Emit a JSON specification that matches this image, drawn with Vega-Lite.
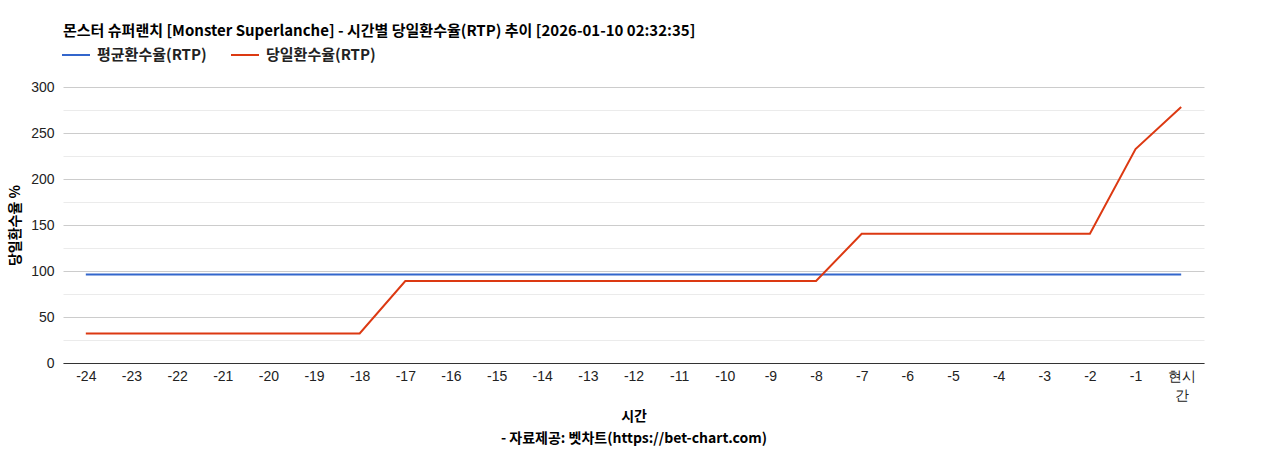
{
  "$schema": "https://vega.github.io/schema/vega-lite/v6.json",
  "autosize": "none",
  "width": 1141,
  "height": 276,
  "padding": {"left": 63, "top": 87, "right": 64, "bottom": 87},
  "title": {
    "text": "몬스터 슈퍼랜치 [Monster Superlanche] - 시간별 당일환수율(RTP) 추이 [2026-01-10 02:32:35]",
    "anchor": "start",
    "frame": "group",
    "font": "Noto Sans CJK KR",
    "fontSize": 15,
    "fontWeight": "bold",
    "color": "#000000",
    "offset": 1
  },
  "config": {
    "view": {"stroke": null},
    "font": "Liberation Sans"
  },
  "data": {
    "values": [
      {"hour": "-24", "series": "평균환수율(RTP)", "rtp": 96.3},
      {"hour": "-23", "series": "평균환수율(RTP)", "rtp": 96.3},
      {"hour": "-22", "series": "평균환수율(RTP)", "rtp": 96.3},
      {"hour": "-21", "series": "평균환수율(RTP)", "rtp": 96.3},
      {"hour": "-20", "series": "평균환수율(RTP)", "rtp": 96.3},
      {"hour": "-19", "series": "평균환수율(RTP)", "rtp": 96.3},
      {"hour": "-18", "series": "평균환수율(RTP)", "rtp": 96.3},
      {"hour": "-17", "series": "평균환수율(RTP)", "rtp": 96.3},
      {"hour": "-16", "series": "평균환수율(RTP)", "rtp": 96.3},
      {"hour": "-15", "series": "평균환수율(RTP)", "rtp": 96.3},
      {"hour": "-14", "series": "평균환수율(RTP)", "rtp": 96.3},
      {"hour": "-13", "series": "평균환수율(RTP)", "rtp": 96.3},
      {"hour": "-12", "series": "평균환수율(RTP)", "rtp": 96.3},
      {"hour": "-11", "series": "평균환수율(RTP)", "rtp": 96.3},
      {"hour": "-10", "series": "평균환수율(RTP)", "rtp": 96.3},
      {"hour": "-9", "series": "평균환수율(RTP)", "rtp": 96.3},
      {"hour": "-8", "series": "평균환수율(RTP)", "rtp": 96.3},
      {"hour": "-7", "series": "평균환수율(RTP)", "rtp": 96.3},
      {"hour": "-6", "series": "평균환수율(RTP)", "rtp": 96.3},
      {"hour": "-5", "series": "평균환수율(RTP)", "rtp": 96.3},
      {"hour": "-4", "series": "평균환수율(RTP)", "rtp": 96.3},
      {"hour": "-3", "series": "평균환수율(RTP)", "rtp": 96.3},
      {"hour": "-2", "series": "평균환수율(RTP)", "rtp": 96.3},
      {"hour": "-1", "series": "평균환수율(RTP)", "rtp": 96.3},
      {"hour": "현시간", "series": "평균환수율(RTP)", "rtp": 96.3},
      {"hour": "-24", "series": "당일환수율(RTP)", "rtp": 32.2},
      {"hour": "-23", "series": "당일환수율(RTP)", "rtp": 32.2},
      {"hour": "-22", "series": "당일환수율(RTP)", "rtp": 32.2},
      {"hour": "-21", "series": "당일환수율(RTP)", "rtp": 32.2},
      {"hour": "-20", "series": "당일환수율(RTP)", "rtp": 32.2},
      {"hour": "-19", "series": "당일환수율(RTP)", "rtp": 32.2},
      {"hour": "-18", "series": "당일환수율(RTP)", "rtp": 32.2},
      {"hour": "-17", "series": "당일환수율(RTP)", "rtp": 89.1},
      {"hour": "-16", "series": "당일환수율(RTP)", "rtp": 89.1},
      {"hour": "-15", "series": "당일환수율(RTP)", "rtp": 89.1},
      {"hour": "-14", "series": "당일환수율(RTP)", "rtp": 89.1},
      {"hour": "-13", "series": "당일환수율(RTP)", "rtp": 89.1},
      {"hour": "-12", "series": "당일환수율(RTP)", "rtp": 89.1},
      {"hour": "-11", "series": "당일환수율(RTP)", "rtp": 89.1},
      {"hour": "-10", "series": "당일환수율(RTP)", "rtp": 89.1},
      {"hour": "-9", "series": "당일환수율(RTP)", "rtp": 89.1},
      {"hour": "-8", "series": "당일환수율(RTP)", "rtp": 89.1},
      {"hour": "-7", "series": "당일환수율(RTP)", "rtp": 140.5},
      {"hour": "-6", "series": "당일환수율(RTP)", "rtp": 140.5},
      {"hour": "-5", "series": "당일환수율(RTP)", "rtp": 140.5},
      {"hour": "-4", "series": "당일환수율(RTP)", "rtp": 140.5},
      {"hour": "-3", "series": "당일환수율(RTP)", "rtp": 140.5},
      {"hour": "-2", "series": "당일환수율(RTP)", "rtp": 140.5},
      {"hour": "-1", "series": "당일환수율(RTP)", "rtp": 232.6},
      {"hour": "현시간", "series": "당일환수율(RTP)", "rtp": 278.3}
    ]
  },
  "mark": {"type": "line", "strokeWidth": 2, "interpolate": "linear"},
  "encoding": {
    "x": {
      "field": "hour",
      "type": "ordinal",
      "sort": ["-24","-23","-22","-21","-20","-19","-18","-17","-16","-15","-14","-13","-12","-11","-10","-9","-8","-7","-6","-5","-4","-3","-2","-1","현시간"],
      "scale": {"type": "point", "padding": 0.5},
      "axis": {
        "title": ["시간", "- 자료제공: 벳차트(https://bet-chart.com)"],
        "titleFont": "Noto Sans CJK KR",
        "titleFontSize": 14,
        "titleFontWeight": "bold",
        "titleColor": "#000000",
        "titleLineHeight": 22,
        "titlePadding": 7,
        "labelAngle": 0,
        "labelFontSize": 14,
        "labelColor": "#222222",
        "labelPadding": 6,
        "labelLineHeight": 19,
        "labelExpr": "datum.label == '현시간' ? ['현시', '간'] : datum.label",
        "ticks": false,
        "domainColor": "#333333",
        "grid": false
      }
    },
    "y": {
      "field": "rtp",
      "type": "quantitative",
      "scale": {"domain": [0, 300], "nice": false},
      "axis": {
        "title": "당일환수율 %",
        "titleFont": "Noto Sans CJK KR",
        "titleFontSize": 14,
        "titleFontWeight": "bold",
        "titleColor": "#000000",
        "titlePadding": 8,
        "values": [0,25,50,75,100,125,150,175,200,225,250,275,300],
        "labelExpr": "datum.value % 50 == 0 ? datum.label : ''",
        "labelFontSize": 14,
        "labelColor": "#222222",
        "labelPadding": 9,
        "ticks": false,
        "domain": false,
        "gridColor": {"expr": "datum.value % 50 == 0 ? '#cccccc' : '#ebebeb'"}
      }
    },
    "color": {
      "field": "series",
      "type": "nominal",
      "scale": {"domain": ["평균환수율(RTP)", "당일환수율(RTP)"], "range": ["#3366cc", "#dc3912"]},
      "legend": {
        "title": null,
        "orient": "none",
        "legendX": -2,
        "legendY": -47,
        "direction": "horizontal",
        "symbolType": "stroke",
        "symbolStrokeWidth": 2,
        "symbolSize": 784,
        "labelFont": "Noto Sans CJK KR",
        "labelFontSize": 15,
        "labelFontWeight": "bold",
        "labelColor": "#222222",
        "labelOffset": 6,
        "columnPadding": 20
      }
    }
  }
}
